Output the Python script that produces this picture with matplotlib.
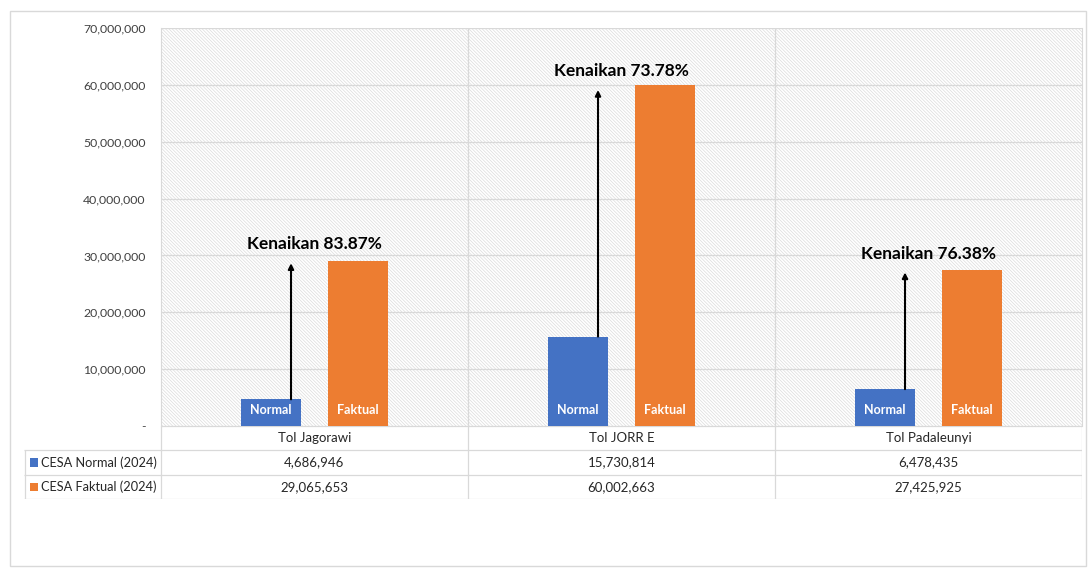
import matplotlib
matplotlib.use('Agg')
import matplotlib.pyplot as plt
from matplotlib.patches import Rectangle
from matplotlib.lines import Line2D
from matplotlib.ticker import FuncFormatter, MultipleLocator
import numpy as np

# ---------------- data ----------------
categories = ['Tol Jagorawi', 'Tol JORR E', 'Tol Padaleunyi']
cesa_normal = [4686946, 15730814, 6478435]
cesa_faktual = [29065653, 60002663, 27425925]
increase_labels = ['Kenaikan 83.87%', 'Kenaikan 73.78%', 'Kenaikan 76.38%']
series_names = ['CESA Normal (2024)', 'CESA Faktual (2024)']
bar_texts = ['Normal', 'Faktual']

# ---------------- style ----------------
plt.rcParams['font.family'] = ['Lato', 'DejaVu Sans']
plt.rcParams['hatch.linewidth'] = 0.5
BLUE = '#4472C4'
ORANGE = '#ED7D31'
GRID = '#d9d9d9'
TXT = '#262626'

W, H = 1092, 572
fig = plt.figure(figsize=(W / 100, H / 100), dpi=100)
fig.patch.set_facecolor('white')


def fx(px):
    return px / W


def fy(py):
    return 1 - py / H


# outer chart frame
fig.patches.append(Rectangle((fx(10), fy(566)), fx(1086) - fx(10), fy(11) - fy(566),
                             transform=fig.transFigure, facecolor='none',
                             edgecolor=GRID, linewidth=1.0))

L, R, T, B = 161, 1082, 28, 426
ax = fig.add_axes([fx(L), fy(B), fx(R) - fx(L), fy(T) - fy(B)])
ax.set_facecolor('white')
ax.add_patch(Rectangle((0, 0), 1, 1, transform=ax.transAxes, facecolor='white',
                       edgecolor='#dcdcdc', hatch='\\' * 10, linewidth=0, zorder=0))

n = len(categories)
x = np.arange(n)
bw = 0.195
off = 0.1415
ax.set_xlim(-0.5, n - 0.5)
ax.set_ylim(0, 70_000_000)
ax.yaxis.set_major_locator(MultipleLocator(10_000_000))
ax.yaxis.set_major_formatter(FuncFormatter(lambda v, p: '-' if v == 0 else f'{v:,.0f}'))
ax.tick_params(axis='y', length=0, pad=11, labelsize=8.8, labelcolor='#404040')
ax.set_xticks([])
ax.grid(axis='y', color=GRID, linewidth=0.9, zorder=1)
ax.set_axisbelow(True)
for s in ['top', 'bottom']:
    ax.spines[s].set_visible(False)
for s in ['left', 'right']:
    ax.spines[s].set_color(GRID)
for b in np.arange(0.5, n - 0.5, 1.0):
    ax.axvline(b, color=GRID, linewidth=0.9, zorder=1)

ax.bar(x - off, cesa_normal, bw, color=BLUE, zorder=3)
ax.bar(x + off, cesa_faktual, bw, color=ORANGE, zorder=3)

for i in range(n):
    ax.annotate(bar_texts[0], xy=(x[i] - off, 0), xytext=(0, 11.5), textcoords='offset points',
                ha='center', va='center', color='white', fontweight='bold', fontsize=9, zorder=4)
    ax.annotate(bar_texts[1], xy=(x[i] + off, 0), xytext=(0, 11.5), textcoords='offset points',
                ha='center', va='center', color='white', fontweight='bold', fontsize=9, zorder=4)
    ax_x = x[i] - off + 0.065
    top = cesa_faktual[i] * 0.985
    ax.annotate('', xy=(ax_x, top), xytext=(ax_x, cesa_normal[i]),
                arrowprops=dict(arrowstyle='-|>', color='black', lw=1.5,
                                mutation_scale=8, shrinkA=0, shrinkB=0), zorder=5)
    ax.annotate(increase_labels[i], xy=(x[i], top), xytext=(0, 13.5), textcoords='offset points',
                ha='center', va='center', fontsize=12.5, fontweight='bold', color='black', zorder=5)

# ---------------- data table ----------------
TL = 24
TB = 499
tab = fig.add_axes([fx(TL), fy(TB), fx(R) - fx(TL), fy(B) - fy(TB)])
units_per_px = n / (R - L)
xleft = -0.5 - (L - TL) * units_per_px
tab.set_xlim(xleft, n - 0.5)
tab.set_ylim(3, 0)
tab.axis('off')

lk = dict(color=GRID, linewidth=0.9, solid_capstyle='butt')
tab.add_line(Line2D([-0.5, n - 0.5], [0, 0], **lk))
for r in [1, 2, 3]:
    tab.add_line(Line2D([xleft, n - 0.5], [r, r], **lk))
for c in np.arange(-0.5, n, 1.0):
    tab.add_line(Line2D([c, c], [0, 3], **lk))
tab.add_line(Line2D([xleft + 0.5 * units_per_px] * 2, [1, 3], **lk))

FS = 9.5
for i, cat in enumerate(categories):
    tab.text(x[i], 0.5, cat, ha='center', va='center', fontsize=FS, color=TXT)
    tab.text(x[i], 1.5, f'{cesa_normal[i]:,}', ha='center', va='center', fontsize=FS, color=TXT)
    tab.text(x[i], 2.5, f'{cesa_faktual[i]:,}', ha='center', va='center', fontsize=FS, color=TXT)

for r, (name, col) in enumerate(zip(series_names, [BLUE, ORANGE])):
    tab.add_patch(Rectangle((xleft + 6 * units_per_px, r + 1.5 - 0.17), 8 * units_per_px, 0.34,
                            facecolor=col, edgecolor='none'))
    tab.text(xleft + 17 * units_per_px, r + 1.5, name, ha='left', va='center', fontsize=9.2, color=TXT)

fig.savefig('out.png', dpi=100)
